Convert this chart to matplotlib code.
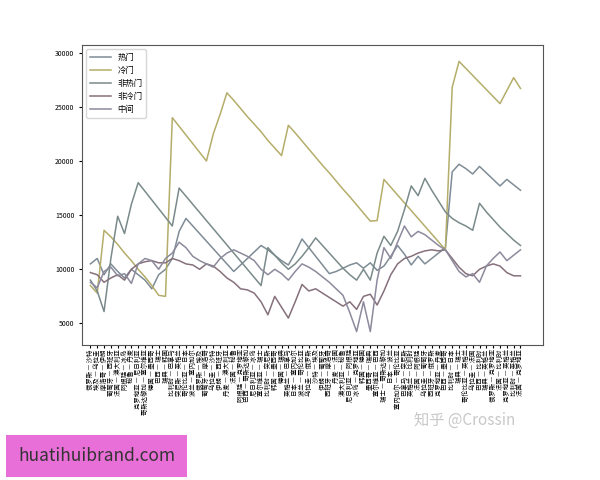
import matplotlib
matplotlib.use("Agg")
import matplotlib.pyplot as plt
import numpy as np

plt.rcParams['font.family'] = ['Noto Sans CJK SC', 'DejaVu Sans']

matches = ["俄罗斯 — 沙特","埃及 — 乌拉圭","摩洛哥 — 伊朗","葡萄牙 — 西班牙","法国 — 澳大利亚","阿根廷 — 冰岛","秘鲁 — 丹麦","克罗地亚 — 尼日利亚",
"哥斯达黎加 — 塞尔维亚","德国 — 墨西哥","巴西 — 瑞士","瑞典 — 韩国","比利时 — 巴拿马","突尼斯 — 英格兰","哥伦比亚 — 日本","波兰 — 塞内加尔",
"俄罗斯 — 埃及","葡萄牙 — 摩洛哥","乌拉圭 — 沙特","伊朗 — 西班牙","丹麦 — 澳大利亚","法国 — 秘鲁","阿根廷 — 克罗地亚","巴西 — 哥斯达黎加",
"尼日利亚 — 冰岛","塞尔维亚 — 瑞士","比利时 — 突尼斯","韩国 — 墨西哥","德国 — 瑞典","英格兰 — 巴拿马","日本 — 塞内加尔","波兰 — 哥伦比亚",
"乌拉圭 — 俄罗斯","沙特 — 埃及","伊朗 — 葡萄牙","西班牙 — 摩洛哥","丹麦 — 法国","澳大利亚 — 秘鲁","尼日利亚 — 阿根廷","冰岛 — 克罗地亚",
"韩国 — 德国","墨西哥 — 瑞典","塞尔维亚 — 巴西","瑞士 — 哥斯达黎加","日本 — 波兰","塞内加尔 — 哥伦比亚","巴拿马 — 突尼斯","英格兰 — 比利时",
"法国 — 阿根廷","乌拉圭 — 葡萄牙","西班牙 — 俄罗斯","克罗地亚 — 丹麦","巴西 — 墨西哥","比利时 — 日本","瑞典 — 瑞士","哥伦比亚 — 英格兰",
"乌拉圭 — 法国","巴西 — 比利时","瑞典 — 英格兰","俄罗斯 — 克罗地亚","法国 — 比利时","克罗地亚 — 英格兰","比利时 — 英格兰","法国 — 克罗地亚"]

hot = [10500,11000,9500,10500,9800,9200,10000,9500,9000,8200,9500,10000,11000,13500,14700,14000,13300,12600,11900,11200,10500,9800,10400,11000,11600,12200,11800,11300,10800,10400,11500,12800,
       12000,11200,10400,9600,9800,10100,10400,10600,10100,10600,9900,10300,11200,12200,11400,10400,11200,10500,11000,11500,12000,19000,19700,19300,18800,19500,18900,18300,17700,18300,17800,17300]
cold = [8500,7800,13600,13000,12300,11500,10800,10000,9300,8500,7600,7500,24000,23200,22400,21600,20800,20000,22500,24300,26300,25600,24850,24100,23400,22700,21900,21200,20500,23300,22600,21850,
        21100,20350,19600,18900,18150,17400,16700,15950,15200,14450,14500,18300,17580,16860,16140,15420,14700,13980,13260,12540,11800,26800,29200,28550,27900,27250,26600,25950,25300,26500,27700,26700]
nonhot = [9000,8000,6100,11000,14900,13300,16000,18000,17200,16400,15600,14800,14000,17500,16750,16000,15250,14500,13750,13000,12250,11500,10750,10000,9250,8500,12000,11300,10600,10000,10500,11200,
          12000,12900,12200,11500,10800,10100,9500,9000,10000,9000,11500,13050,12200,13500,15500,17700,16800,18400,17300,16300,15300,14700,14300,14000,13600,16100,15300,14600,13900,13300,12700,12200]
noncold = [9700,9500,8800,9200,9500,9000,10000,10500,10700,10800,10600,10600,11000,10800,10500,10400,10000,10500,10300,9800,9200,8800,8200,8100,7800,7000,5800,7500,6500,5500,7000,8600,
           8000,8200,7800,7400,7000,6600,7000,6300,7500,7700,6700,8000,9500,10500,11000,11200,11500,11700,11800,11700,11800,11000,10200,9600,9400,10000,10300,10500,10300,9700,9400,9400]
middle = [8800,8300,9800,10200,9400,9600,8700,10500,11000,10800,10000,11000,11500,12500,12000,11200,10800,10500,10200,11000,11500,11800,11500,11200,10800,10000,9500,10000,9600,9000,9800,10500,
          10200,9800,9300,8800,8200,7600,6000,4250,7000,4250,9000,12000,11000,12500,14000,13000,13500,13200,12700,12200,11800,10800,9800,9300,9600,8800,10300,11000,11600,10800,11300,11800]

names = ["热门", "冷门", "非热门", "非冷门", "中间"]
series = [hot, cold, nonhot, noncold, middle]
colors = ["#7f8c96", "#b5ad6a", "#7a8a8a", "#86707c", "#8c8a9c"]

fig = plt.figure(figsize=(6, 4.8), dpi=100)
ax = fig.add_axes([0.137, 0.281, 0.768, 0.625])
x = np.arange(len(matches))
for s, n, c in zip(series, names, colors):
    ax.plot(x, s, color=c, lw=1.1, label=n)
ax.set_xlim(-1.2, len(matches) + 2.3)
ax.set_ylim(3000, 30700)
ax.set_yticks([5000, 10000, 15000, 20000, 25000, 30000])
ax.tick_params(axis='y', labelsize=5, length=2)
ax.set_xticks(x)
ax.set_xticklabels(matches, rotation=90, fontsize=4.6)
ax.tick_params(axis='x', length=2, pad=1)
for sp in ax.spines.values():
    sp.set_color('#555555')
    sp.set_linewidth(0.8)
ax.legend(loc='upper left', fontsize=6, frameon=True, handlelength=2.5)

fig.text(0.69, 0.115, "知乎 @Crossin", fontsize=11, color="#c8c8c8")
fig.text(0.03, 0.04, "huatihuibrand.com", fontsize=12.5, color="#333333",
         bbox=dict(boxstyle="square,pad=0.7", fc="#e96fd8", ec="none"))
fig.savefig("out.png", dpi=100, facecolor="white")
